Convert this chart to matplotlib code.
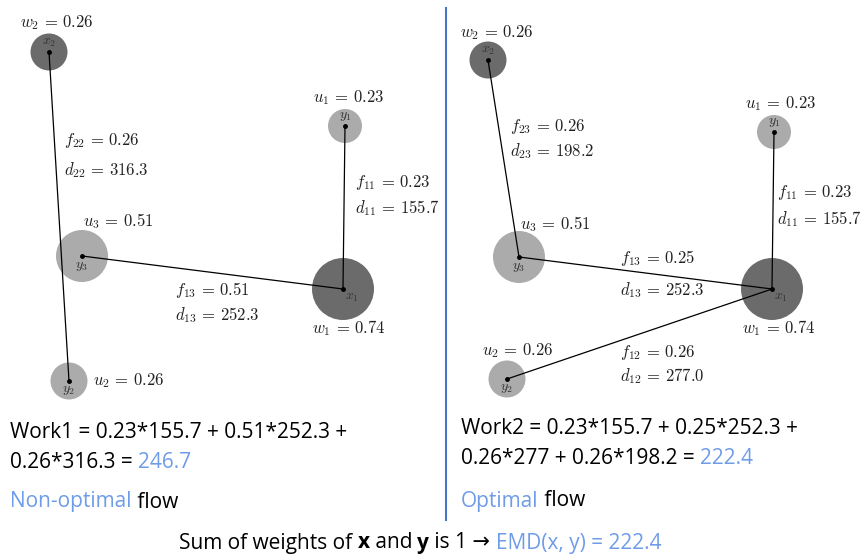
import matplotlib
matplotlib.use("Agg")
import matplotlib.pyplot as plt
from matplotlib.patches import Circle

plt.rcParams['mathtext.fontset'] = 'cm'

W, H = 863, 559
fig = plt.figure(figsize=(W/100, H/100), dpi=100)
ax = fig.add_axes([0, 0, 1, 1])
ax.set_xlim(0, W)
ax.set_ylim(H, 0)
ax.axis('off')

DARK = '#6b6b6b'
LIGHT = '#ababab'
BLUE = '#6f9ce8'
SEP = '#4a74c6'

# ---- data ----
node_names = ['x1', 'x2', 'y1', 'y2', 'y3']
node_labels = [r'$x_1$', r'$x_2$', r'$y_1$', r'$y_2$', r'$y_3$']
node_weights = [0.74, 0.26, 0.23, 0.26, 0.51]
left_pos = {'x1': (343, 289), 'x2': (49, 52), 'y1': (345, 126), 'y2': (69, 381), 'y3': (82, 256)}
right_pos = {'x1': (772, 289), 'x2': (488, 60), 'y1': (774, 132), 'y2': (507, 379), 'y3': (519, 257)}
node_radius = {'x1': 31, 'x2': 18.5, 'y1': 17, 'y2': 18.5, 'y3': 26}

left_flows = [('x2', 'y2'), ('x1', 'y3'), ('x1', 'y1')]
right_flows = [('x2', 'y3'), ('x1', 'y3'), ('x1', 'y1'), ('x1', 'y2')]

left_texts = [
    ('w_2', '0.26', 20, 23),
    ('u_1', '0.23', 313, 98),
    ('f_{22}', '0.26', 64, 141),
    ('d_{22}', '316.3', 64, 170),
    ('f_{11}', '0.23', 355, 182),
    ('d_{11}', '155.7', 355, 208),
    ('u_3', '0.51', 83, 221),
    ('f_{13}', '0.51', 175, 290),
    ('d_{13}', '252.3', 175, 315),
    ('w_1', '0.74', 312, 328),
    ('u_2', '0.26', 93, 381),
]
right_texts = [
    ('w_2', '0.26', 460, 33),
    ('u_1', '0.23', 745, 104),
    ('f_{23}', '0.26', 510, 127),
    ('d_{23}', '198.2', 510, 151),
    ('f_{11}', '0.23', 777, 193),
    ('d_{11}', '155.7', 777, 219),
    ('u_3', '0.51', 520, 224),
    ('f_{13}', '0.25', 620, 258),
    ('d_{13}', '252.3', 620, 290),
    ('w_1', '0.74', 742, 328),
    ('u_2', '0.26', 482, 351),
    ('f_{12}', '0.26', 620, 352),
    ('d_{12}', '277.0', 620, 376),
]
# node label offsets relative to centre
label_off = {'x1': (9, 8), 'x2': (0, -10), 'y1': (0, -10), 'y2': (0, 9), 'y3': (0, 10)}

MATH_FS = 12


def draw_panel(pos, flows, texts):
    for n in node_names:
        c = DARK if n.startswith('x') else LIGHT
        ax.add_patch(Circle(pos[n], node_radius[n], color=c, lw=0, zorder=1))
    for a, b in flows:
        (xa, ya), (xb, yb) = pos[a], pos[b]
        ax.plot([xa, xb], [ya, yb], color='black', lw=0.9, zorder=2)
    for n, lab in zip(node_names, node_labels):
        x, y = pos[n]
        ax.plot([x], [y], 'o', color='black', ms=2.5, zorder=3)
        dx, dy = label_off[n]
        ax.text(x + dx, y + dy, lab, ha='center', va='center', fontsize=10,
                color='#333333', zorder=4)
    for sym, val, x, y in texts:
        s = r'$%s\,=\,%s$' % (sym, val)
        ax.text(x, y, s, ha='left', va='center', fontsize=MATH_FS, color='#222222', zorder=4)


draw_panel(left_pos, left_flows, left_texts)
draw_panel(right_pos, right_flows, right_texts)

# separator
ax.plot([446, 446], [8, 520], color=SEP, lw=1.5)

# ---- bottom texts ----
FAM = ['Open Sans', 'DejaVu Sans']
TFS = 15

fig.canvas.draw()
renderer = fig.canvas.get_renderer()


def draw_pieces(x, y, pieces, ha='left'):
    # pieces: list of (text, color, weight)
    objs = []
    cur = x
    inv = ax.transData.inverted()
    for s, col, wt in pieces:
        t = ax.text(cur, y, s, ha='left', va='center', fontsize=TFS, color=col,
                    fontweight=wt, family=FAM)
        bb = t.get_window_extent(renderer=renderer)
        (x0, _), (x1, _) = inv.transform([[bb.x0, bb.y0], [bb.x1, bb.y1]])
        cur += (x1 - x0)
        objs.append(t)
    if ha == 'center':
        total = cur - x
        for t in objs:
            px, py = t.get_position()
            t.set_position((px - total / 2, py))
    return objs


draw_pieces(10, 433, [('Work1 = 0.23*155.7 + 0.51*252.3 +', 'black', 'normal')])
draw_pieces(10, 463, [('0.26*316.3 = ', 'black', 'normal'), ('246.7', BLUE, 'normal')])
draw_pieces(10, 502, [('Non-optimal', BLUE, 'normal'), (' flow', 'black', 'normal')])

draw_pieces(461, 429, [('Work2 = 0.23*155.7 + 0.25*252.3 +', 'black', 'normal')])
draw_pieces(461, 458, [('0.26*277 + 0.26*198.2 = ', 'black', 'normal'), ('222.4', BLUE, 'normal')])
draw_pieces(461, 501, [('Optimal', BLUE, 'normal'), (' flow', 'black', 'normal')])

draw_pieces(420, 543, [('Sum of weights of ', 'black', 'normal'), ('x', 'black', 'bold'),
                       (' and ', 'black', 'normal'), ('y', 'black', 'bold'),
                       (' is 1 \u2192 ', 'black', 'normal'), ('EMD(x, y) = 222.4', BLUE, 'normal')],
            ha='center')

fig.savefig('out.png', dpi=100)
